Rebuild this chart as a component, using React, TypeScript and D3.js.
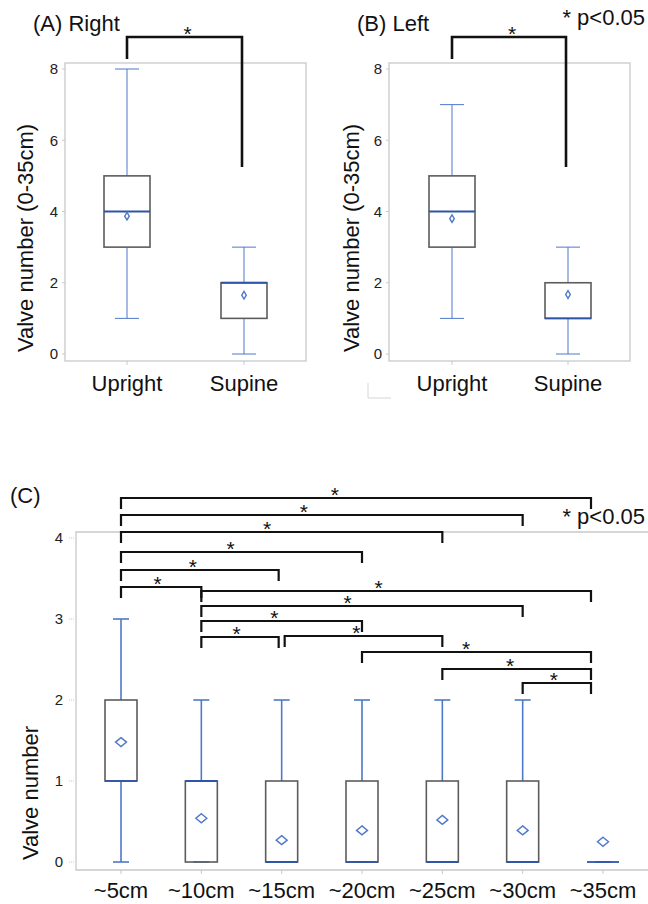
import * as d3 from "d3";

// panels A/B: valve number (0-35cm) by posture
const postures = ["Upright", "Supine"];

const rightMin = [1, 0];
const rightQ1 = [3, 1];
const rightMedian = [4, 2];
const rightQ3 = [5, 2];
const rightMax = [8, 3];
const rightMean = [3.87, 1.65];

const leftMin = [1, 0];
const leftQ1 = [3, 1];
const leftMedian = [4, 1];
const leftQ3 = [5, 2];
const leftMax = [7, 3];
const leftMean = [3.8, 1.67];

const sideTicks = [0, 2, 4, 6, 8];

// panel C: valve number by depth
const depths = ["~5cm", "~10cm", "~15cm", "~20cm", "~25cm", "~30cm", "~35cm"];
const depthMin = [0, 0, 0, 0, 0, 0, 0];
const depthQ1 = [1, 0, 0, 0, 0, 0, 0];
const depthMedian = [1, 1, 0, 0, 0, 0, 0];
const depthQ3 = [2, 1, 1, 1, 1, 1, 0];
const depthMax = [3, 2, 2, 2, 2, 2, 0];
const depthMean = [1.48, 0.54, 0.27, 0.39, 0.52, 0.39, 0.25];
const depthTicks = [0, 1, 2, 3, 4];

// significant pairs (p<0.05), top bracket first
const depthPairs: [string, string][] = [
  ["~5cm", "~35cm"],
  ["~5cm", "~30cm"],
  ["~5cm", "~25cm"],
  ["~5cm", "~20cm"],
  ["~5cm", "~15cm"],
  ["~5cm", "~10cm"],
  ["~10cm", "~35cm"],
  ["~10cm", "~30cm"],
  ["~10cm", "~20cm"],
  ["~10cm", "~15cm"],
  ["~15cm", "~25cm"],
  ["~20cm", "~35cm"],
  ["~25cm", "~35cm"],
  ["~30cm", "~35cm"],
];

const FONT = "'Liberation Sans', Arial, Helvetica, sans-serif";
const WHISKER = "#4f78c8";
const MEDIAN = "#2f55a8";
const BOX = "#5c5c5c";
const FRAME = "#c6c9cc";

type Stats = {
  min: number[];
  q1: number[];
  median: number[];
  q3: number[];
  max: number[];
  mean: number[];
};

function Boxes({ cats, s, x, y, boxW, capW, dw, dh, lw }: {
  cats: string[];
  s: Stats;
  x: d3.ScalePoint<string>;
  y: d3.ScaleLinear<number, number>;
  boxW: number;
  capW: number;
  dw: number;
  dh: number;
  lw: number;
}) {
  return (
    <g>
      {cats.map((c, i) => {
        const cx = x(c)!;
        const top = y(s.q3[i]);
        const bot = y(s.q1[i]);
        const my = y(s.mean[i]);
        return (
          <g key={c}>
            {s.max[i] > s.q3[i] && (
              <line x1={cx} x2={cx} y1={y(s.max[i])} y2={top} stroke={WHISKER} strokeWidth={lw} />
            )}
            {s.min[i] < s.q1[i] && (
              <line x1={cx} x2={cx} y1={y(s.min[i])} y2={bot} stroke={WHISKER} strokeWidth={lw} />
            )}
            <line x1={cx - capW / 2} x2={cx + capW / 2} y1={y(s.max[i])} y2={y(s.max[i])} stroke={WHISKER} strokeWidth={lw} />
            <line x1={cx - capW / 2} x2={cx + capW / 2} y1={y(s.min[i])} y2={y(s.min[i])} stroke={WHISKER} strokeWidth={lw} />
            {bot > top && (
              <rect x={cx - boxW / 2} y={top} width={boxW} height={bot - top} fill="none" stroke={BOX} strokeWidth={1.6} />
            )}
            <line x1={cx - boxW / 2} x2={cx + boxW / 2} y1={y(s.median[i])} y2={y(s.median[i])} stroke={MEDIAN} strokeWidth={1.8} />
            <path
              d={`M${cx},${my - dh} L${cx + dw},${my} L${cx},${my + dh} L${cx - dw},${my} Z`}
              fill="none"
              stroke={WHISKER}
              strokeWidth={1.4}
            />
          </g>
        );
      })}
    </g>
  );
}

function SidePanel({ title, s, x0, x1, xr, labelX, showP }: {
  title: string;
  s: Stats;
  x0: number;
  x1: number;
  xr: [number, number];
  labelX: number;
  showP: boolean;
}) {
  const y = d3.scaleLinear().domain([0, 8]).range([354, 69]);
  const x = d3.scalePoint<string>().domain(postures).range(xr);
  const fy0 = 63, fy1 = 361;
  const bx1 = x("Upright")!, bx2 = x("Supine")! - 2;
  return (
    <g>
      <rect x={x0} y={fy0} width={x1 - x0} height={fy1 - fy0} fill="none" stroke={FRAME} strokeWidth={1.3} />
      {sideTicks.map((t) => (
        <g key={t}>
          <line x1={x0 - 3} x2={x0} y1={y(t)} y2={y(t)} stroke={FRAME} />
          <text x={x0 - 7} y={y(t)} dy="0.35em" textAnchor="end" fontSize={15} fill="#222">{t}</text>
        </g>
      ))}
      {postures.map((p) => (
        <g key={p}>
          <line x1={x(p)} x2={x(p)} y1={fy1} y2={fy1 + 4} stroke={FRAME} />
          <text x={x(p)} y={391} textAnchor="middle" fontSize={22} fill="#111">{p}</text>
        </g>
      ))}
      <text transform={`translate(${labelX},238) rotate(-90)`} dy="0.35em" textAnchor="middle" fontSize={22} fill="#111">
        Valve number (0-35cm)
      </text>
      <Boxes cats={postures} s={s} x={x} y={y} boxW={46} capW={24} dw={2.3} dh={3.8} lw={1} />
      <path d={`M${bx1},59 V37 H${bx2} V167`} fill="none" stroke="#111" strokeWidth={2.6} />
      <text x={(bx1 + bx2) / 2 + 3} y={41} textAnchor="middle" fontSize={21} fill="#111">*</text>
      <text x={x0 - 32} y={31} fontSize={22} fill="#111">{title}</text>
      {showP && <text x={645} y={25} textAnchor="end" fontSize={22} fill="#111">* p&lt;0.05</text>}
    </g>
  );
}

export default function App() {
  const right: Stats = { min: rightMin, q1: rightQ1, median: rightMedian, q3: rightQ3, max: rightMax, mean: rightMean };
  const left: Stats = { min: leftMin, q1: leftQ1, median: leftMedian, q3: leftQ3, max: leftMax, mean: leftMean };
  const depth: Stats = { min: depthMin, q1: depthQ1, median: depthMedian, q3: depthQ3, max: depthMax, mean: depthMean };

  const yC = d3.scaleLinear().domain([0, 4]).range([862, 538]);
  const xC = d3.scalePoint<string>().domain(depths).range([121, 603]);
  const fC = { x0: 76, y0: 532, y1: 870 };

  // bracket rows, top to bottom
  const rowY = [498, 515, 532, 552, 570, 587, 591, 606, 621, 637, 636, 652, 669, 683];
  const leg = 11;
  const endX = (c: string, side: "l" | "r") => {
    let v = xC(c)!;
    if (c === "~35cm") v -= 12;
    if (c === "~15cm") v += side === "l" ? 3 : -3;
    return v;
  };

  return (
    <svg width={648} height={904} style={{ position: "absolute", left: 0, top: 0, fontFamily: FONT }}>
      <rect width={648} height={904} fill="#fff" />
      <SidePanel title="(A) Right" s={right} x0={65} x1={306} xr={[127, 244]} labelX={25} showP={false} />
      <SidePanel title="(B) Left" s={left} x0={389} x1={630} xr={[452, 568]} labelX={351} showP={true} />
      <path d="M368,383 V398 H391" fill="none" stroke="#d4d6d8" strokeWidth={1} />

      {/* panel C */}
      <g>
        <path d={`M700,${fC.y0} H${fC.x0} V${fC.y1} H700`} fill="none" stroke={FRAME} strokeWidth={1.3} />
        {depthTicks.map((t) => (
          <g key={t}>
            <line x1={fC.x0 - 7} x2={fC.x0 - 2} y1={yC(t)} y2={yC(t)} stroke={FRAME} strokeDasharray="1,1" />
            <text x={fC.x0 - 13} y={yC(t)} dy="0.35em" textAnchor="end" fontSize={15} fill="#222">{t}</text>
          </g>
        ))}
        {depths.map((d) => (
          <g key={d}>
            <line x1={xC(d)} x2={xC(d)} y1={fC.y1} y2={fC.y1 + 4} stroke={FRAME} />
            <text x={xC(d)} y={898} textAnchor="middle" fontSize={22} fill="#111">{d}</text>
          </g>
        ))}
        <text transform={`translate(30,793) rotate(-90)`} dy="0.35em" textAnchor="middle" fontSize={22} fill="#111">
          Valve number
        </text>
        <Boxes cats={depths} s={depth} x={xC} y={yC} boxW={32} capW={16} dw={5.5} dh={4.5} lw={1.6} />
        {depthPairs.map(([a, b], i) => {
          const xa = endX(a, "l"), xb = endX(b, "r");
          const yy = rowY[i];
          const w = xb - xa;
          return (
            <g key={a + b}>
              <path d={`M${xa},${yy + leg} V${yy} H${xb} V${yy + leg}`} fill="none" stroke="#111" strokeWidth={2.2} />
              <text x={(xa + xb) / 2 - 0.045 * w} y={yy + 4} textAnchor="middle" fontSize={21} fill="#111">*</text>
            </g>
          );
        })}
        <text x={10} y={503} fontSize={22} fill="#111">(C)</text>
        <text x={645} y={524} textAnchor="end" fontSize={22} fill="#111">* p&lt;0.05</text>
      </g>
    </svg>
  );
}
